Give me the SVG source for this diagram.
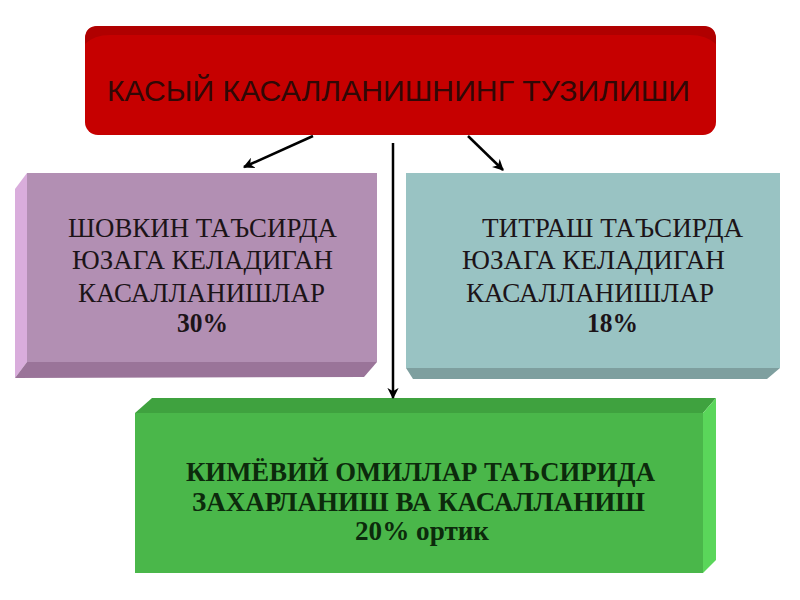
<svg xmlns="http://www.w3.org/2000/svg" width="800" height="600" viewBox="0 0 800 600">
  <style>
    .ser { font-family: "Liberation Serif", "Times New Roman", serif; font-size: 28px; fill: #1c1418; }
    .serb { font-family: "Liberation Serif", "Times New Roman", serif; font-size: 27px; font-weight: bold; fill: #1c1418; }
    .grn { font-family: "Liberation Serif", "Times New Roman", serif; font-size: 28px; font-weight: bold; fill: #0c2a0c; }
    .ttl { font-family: "Liberation Sans", Arial, sans-serif; font-size: 29px; fill: #300806; }
    .conn { stroke: #000; stroke-width: 2.5; fill: none; }
  </style>
  <defs>
    <marker id="arr" viewBox="0 0 10 10" refX="9" refY="5" markerWidth="4.5" markerHeight="4.5" orient="auto" markerUnits="strokeWidth">
      <path d="M0,0 L10,5 L0,10 L3,5 Z" fill="#000"/>
    </marker>
  </defs>
  <rect width="800" height="600" fill="#ffffff"/>

  <g id="title">
    <rect x="85" y="26" width="631" height="109" rx="13" ry="13" fill="#c60000"/>
    <path d="M98,26 L703,26 Q716,26 716,39 L716,44 Q706,35 690,35 L110,35 Q94,35 85,44 L85,39 Q85,26 98,26 Z" fill="#b00000"/>
    <text class="ttl" x="107" y="101" textLength="583" lengthAdjust="spacingAndGlyphs">КАСЫЙ КАСАЛЛАНИШНИНГ ТУЗИЛИШИ</text>
  </g>

  <g id="noise">
    <polygon points="27,173 15,189 15,378 27,362" fill="#d9addc"/>
    <polygon points="27,362 377,362 364,377 15,378" fill="#9a7499"/>
    <rect x="27" y="173" width="350" height="189" fill="#b28fb3"/>
    <text class="ser" x="68" y="237" textLength="269" lengthAdjust="spacingAndGlyphs">ШОВКИН ТАЪСИРДА</text>
    <text class="ser" x="72" y="269" textLength="261" lengthAdjust="spacingAndGlyphs">ЮЗАГА КЕЛАДИГАН</text>
    <text class="ser" x="78" y="302" textLength="247" lengthAdjust="spacingAndGlyphs">КАСАЛЛАНИШЛАР</text>
    <text class="serb" x="177" y="332" textLength="51" lengthAdjust="spacingAndGlyphs">30%</text>
  </g>

  <g id="vibration">
    <polygon points="406,368 780,368 767,379 413,379" fill="#7e9f9f"/>
    <rect x="406" y="173" width="374" height="195" fill="#99c3c3"/>
    <text class="ser" x="482" y="237" textLength="261" lengthAdjust="spacingAndGlyphs">ТИТРАШ ТАЪСИРДА</text>
    <text class="ser" x="462" y="269" textLength="263" lengthAdjust="spacingAndGlyphs">ЮЗАГА КЕЛАДИГАН</text>
    <text class="ser" x="466" y="302" textLength="248" lengthAdjust="spacingAndGlyphs">КАСАЛЛАНИШЛАР</text>
    <text class="serb" x="587" y="332" textLength="51" lengthAdjust="spacingAndGlyphs">18%</text>
  </g>

  <g id="chemical">
    <polygon points="135,413 152,398 716,398 703,413" fill="#3fa23f"/>
    <polygon points="703,413 716,398 716,560 703,573" fill="#5ad65a"/>
    <rect x="135" y="413" width="568" height="160" fill="#4ab74a"/>
    <text class="grn" x="186" y="481" textLength="469" lengthAdjust="spacingAndGlyphs">КИМЁВИЙ ОМИЛЛАР ТАЪСИРИДА</text>
    <text class="grn" x="192" y="511" textLength="453" lengthAdjust="spacingAndGlyphs">ЗАХАРЛАНИШ ВА КАСАЛЛАНИШ</text>
    <text class="grn" x="355" y="540" textLength="134" lengthAdjust="spacingAndGlyphs">20% ортик</text>
  </g>

  <g id="connectors">
    <line class="conn" x1="313" y1="136" x2="244" y2="167" marker-end="url(#arr)"/>
    <line class="conn" x1="468" y1="136" x2="503" y2="170" marker-end="url(#arr)"/>
    <line class="conn" x1="393" y1="143" x2="393" y2="398" marker-end="url(#arr)"/>
  </g>
</svg>
